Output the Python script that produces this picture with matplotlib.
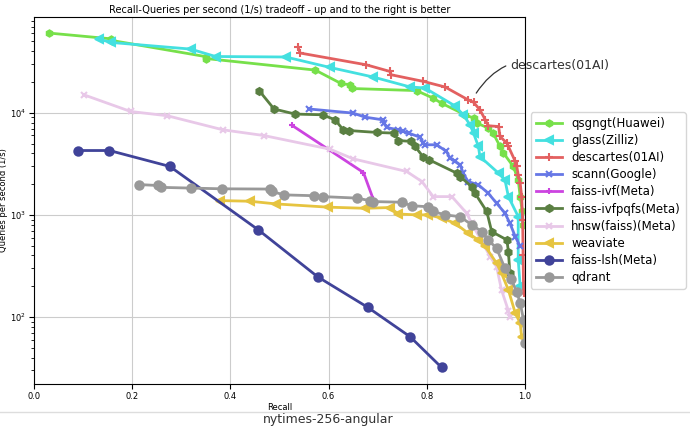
import matplotlib
matplotlib.use("Agg")
import matplotlib.pyplot as plt
from matplotlib.lines import Line2D

# recall / qps per algorithm
qsgngt_x = [0.031, 0.158, 0.160, 0.350, 0.351, 0.573, 0.625, 0.644, 0.647, 0.779, 0.813, 0.830,
            0.878, 0.895, 0.902, 0.925, 0.935, 0.949, 0.956, 0.976, 0.986, 0.990, 0.994, 0.996]
qsgngt_y = [60400, 53000, 51000, 35500, 34000, 26200, 19400, 18800, 17300, 16500, 13900, 12400,
            9560, 8870, 7930, 7080, 6320, 4680, 4030, 2980, 2200, 1510, 1100, 800]

glass_x = [0.132, 0.157, 0.319, 0.370, 0.513, 0.603, 0.691, 0.766, 0.796, 0.857, 0.874, 0.888,
           0.895, 0.905, 0.908, 0.946, 0.959, 0.966, 0.986, 0.986, 0.990]
glass_y = [52800, 48900, 42100, 35600, 35200, 27800, 22400, 17900, 17500, 11700, 9560, 7630,
           6320, 4680, 3730, 2560, 2200, 1510, 962, 363, 200]

descartes_x = [0.538, 0.542, 0.677, 0.725, 0.727, 0.793, 0.837, 0.884, 0.895, 0.908, 0.919,
               0.925, 0.946, 0.949, 0.963, 0.966, 0.980, 0.983, 0.986, 0.990, 0.993, 0.995,
               0.996, 0.997]
descartes_y = [43700, 38500, 29500, 25400, 23600, 20300, 17900, 13400, 12700, 10700, 8540,
               7460, 7340, 5860, 5040, 4680, 3340, 2980, 2470, 2050, 1510, 900, 400, 170]

scann_x = [0.560, 0.650, 0.674, 0.710, 0.713, 0.718, 0.742, 0.752, 0.763, 0.786, 0.793, 0.796,
           0.820, 0.840, 0.847, 0.857, 0.868, 0.874, 0.884, 0.905, 0.925, 0.942, 0.959, 0.969,
           0.980, 0.990]
scann_y = [10900, 9930, 9070, 8540, 7930, 7180, 6810, 6560, 6320, 5770, 5040, 4860,
           4860, 4180, 3600, 3340, 3090, 2560, 2120, 1970, 1630, 1300, 1040, 830,
           613, 490]

ivf_x = [0.526, 0.671, 0.691]
ivf_y = [7510, 2600, 1420]

ivfpqfs_x = [0.459, 0.489, 0.532, 0.588, 0.613, 0.630, 0.642, 0.698, 0.734, 0.742, 0.768,
             0.776, 0.793, 0.805, 0.861, 0.868, 0.891, 0.898, 0.922, 0.932, 0.963, 0.966, 0.969]
ivfpqfs_y = [16400, 10900, 9710, 9560, 8540, 6810, 6700, 6420, 6320, 5350, 5240,
             4680, 3680, 3460, 2560, 2370, 1890, 1630, 1080, 686, 568, 437, 270]

hnsw_x = [0.102, 0.197, 0.272, 0.385, 0.468, 0.603, 0.650, 0.759, 0.790, 0.813, 0.851,
          0.881, 0.891, 0.929, 0.942, 0.952, 0.966, 0.969]
hnsw_y = [15000, 10300, 9350, 6810, 5990, 4400, 3540, 2660, 2120, 1510, 1510,
          1040, 830, 390, 311, 184, 115, 101]

weaviate_x = [0.379, 0.440, 0.493, 0.599, 0.674, 0.725, 0.742, 0.779, 0.803, 0.830, 0.857,
              0.884, 0.905, 0.919, 0.942, 0.952, 0.966, 0.980, 0.990, 0.993]
weaviate_y = [1380, 1360, 1280, 1190, 1160, 1180, 1020, 1000, 1000, 930, 830,
              662, 568, 490, 336, 268, 184, 109, 87, 64]

lsh_x = [0.090, 0.154, 0.277, 0.457, 0.578, 0.680, 0.766, 0.830]
lsh_y = [4270, 4270, 2980, 713, 247, 124, 64, 32]

qdrant_x = [0.215, 0.252, 0.259, 0.319, 0.383, 0.481, 0.484, 0.509, 0.571, 0.588, 0.657,
            0.684, 0.691, 0.749, 0.769, 0.803, 0.813, 0.837, 0.868, 0.891, 0.912, 0.925,
            0.942, 0.959, 0.972, 0.983, 0.990, 0.997, 1.0]
qdrant_y = [1980, 1940, 1860, 1830, 1800, 1790, 1700, 1570, 1540, 1510, 1460,
            1380, 1350, 1330, 1230, 1200, 1080, 1000, 960, 800, 686, 568,
            470, 300, 233, 176, 137, 93, 55]

names = ["qsgngt(Huawei)", "glass(Zilliz)", "descartes(01AI)", "scann(Google)",
         "faiss-ivf(Meta)", "faiss-ivfpqfs(Meta)", "hnsw(faiss)(Meta)", "weaviate",
         "faiss-lsh(Meta)", "qdrant"]
xs = [qsgngt_x, glass_x, descartes_x, scann_x, ivf_x, ivfpqfs_x, hnsw_x, weaviate_x, lsh_x, qdrant_x]
ys = [qsgngt_y, glass_y, descartes_y, scann_y, ivf_y, ivfpqfs_y, hnsw_y, weaviate_y, lsh_y, qdrant_y]

colors = ["#77e04a", "#44e0e0", "#e36060", "#6677e6", "#cc44e0", "#5a7f42", "#e8c8e8",
          "#e6c440", "#404399", "#999999"]
markers = ["h", "<", "+", "x", "+", "h", "x", "<", "o", "o"]
msizes = [4.5, 6, 6, 5, 5, 5, 5, 6, 6, 6]

fig = plt.figure(figsize=(6.9, 4.33), dpi=100)
ax = fig.add_axes([0.049, 0.113, 0.712, 0.848])

for n, x, y, c, m, s in zip(names, xs, ys, colors, markers, msizes):
    ax.plot(x, y, color=c, marker=m, markersize=s, linewidth=2, markeredgewidth=1.5, label=n)

ax.set_yscale("log")
ax.set_xlim(0, 1)
ax.set_ylim(22, 87000)
ax.grid(True, which="major", color="#cccccc", linewidth=0.8)
ax.tick_params(labelsize=6, pad=2)
ax.set_xlabel("Recall", fontsize=6, labelpad=2)
ax.set_ylabel("Queries per second (1/s)", fontsize=6)
ax.yaxis.set_label_coords(-0.053, 0.5)
ax.set_title("Recall-Queries per second (1/s) tradeoff - up and to the right is better",
             fontsize=7, pad=3)

ax.legend(loc="center left", bbox_to_anchor=(1.005, 0.5), fontsize=8.5, handlelength=2.2,
          labelspacing=0.35, borderaxespad=0.3, handletextpad=0.8)

ax.annotate("descartes(01AI)", xy=(0.896, 14400), xytext=(0.969, 29000), fontsize=9,
            color="#333333", va="center", ha="left", annotation_clip=False,
            arrowprops=dict(arrowstyle="-", color="#333333", lw=0.9,
                            connectionstyle="arc3,rad=0.4", shrinkA=1, shrinkB=3))

fig.add_artist(Line2D([0.0, 1.0], [0.049, 0.049], color="#dddddd", linewidth=1))
fig.text(0.475, 0.032, "nytimes-256-angular", fontsize=9, ha="center", va="center", color="#333333")

fig.savefig("out.png", dpi=100)
